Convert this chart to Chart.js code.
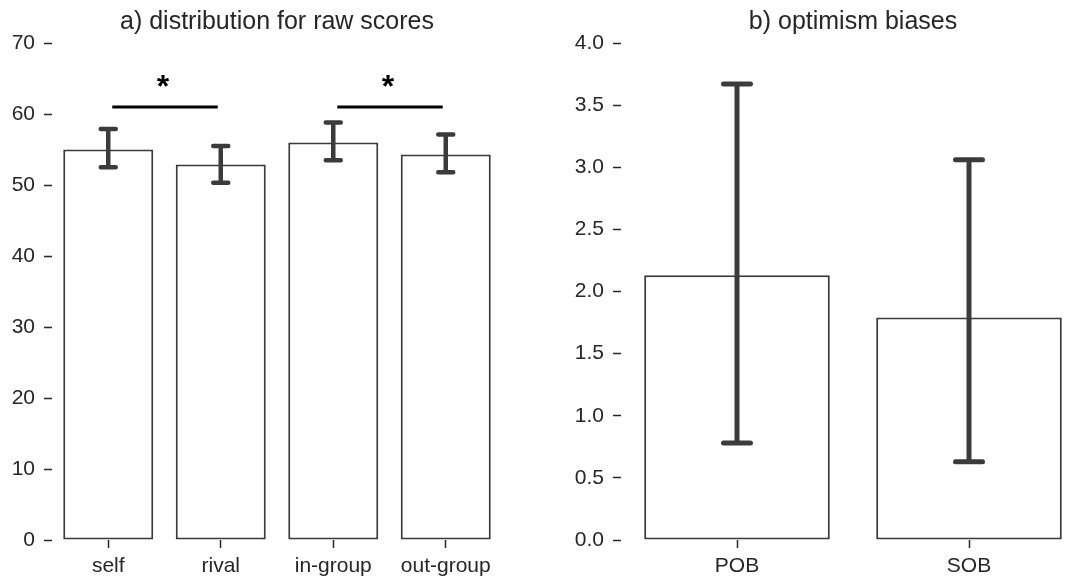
<!DOCTYPE html>
<html>
<head>
<meta charset="utf-8">
<script src="https://cdn.jsdelivr.net/npm/chart.js@4"></script>
<style>
html,body{margin:0;padding:0;background:#fff;overflow:hidden;width:1070px;height:581px;}
.box{position:absolute;top:0;height:581px;}
</style>
</head>
<body>
<div class="box" style="left:0;width:515px;"><canvas id="c1"></canvas></div>
<div class="box" style="left:560px;width:535px;"><canvas id="c2"></canvas></div>
<script>
// ---- data ----
const titleA = 'a) distribution for raw scores';
const catsA = ['self', 'rival', 'in-group', 'out-group'];
const meanA = [55.0, 52.9, 56.0, 54.3];
const loA = [52.5, 50.3, 53.5, 51.8];
const hiA = [57.9, 55.5, 58.8, 57.1];
const yTicksA = ['0', '10', '20', '30', '40', '50', '60', '70'];
const sigPairsA = [[0, 1], [2, 3]];
const sigLineY = 61;
const sigStarY = 63.6;

const titleB = 'b) optimism biases';
const catsB = ['POB', 'SOB'];
const meanB = [2.13, 1.79];
const loB = [0.78, 0.63];
const hiB = [3.67, 3.06];
const yTicksB = ['0.0', '0.5', '1.0', '1.5', '2.0', '2.5', '3.0', '3.5', '4.0'];

// ---- style ----
const FONT = "'Liberation Sans', Arial, sans-serif";
const TXT = '#262626';
const EDGE = '#3a3a3a';

function errPlugin(lo, hi, capHalf, lw) {
  return {
    id: 'err',
    afterDatasetsDraw(chart) {
      const ctx = chart.ctx, xs = chart.scales.x, ys = chart.scales.y;
      ctx.save();
      ctx.strokeStyle = '#3b3b3b';
      ctx.lineWidth = lw;
      ctx.lineCap = 'round';
      for (let i = 0; i < lo.length; i++) {
        const x = xs.getPixelForValue(i);
        const y1 = ys.getPixelForValue(hi[i]);
        const y2 = ys.getPixelForValue(lo[i]);
        ctx.beginPath();
        ctx.moveTo(x, y1); ctx.lineTo(x, y2);
        ctx.moveTo(x - capHalf, y1); ctx.lineTo(x + capHalf, y1);
        ctx.moveTo(x - capHalf, y2); ctx.lineTo(x + capHalf, y2);
        ctx.stroke();
      }
      ctx.restore();
    }
  };
}

const sigPlugin = {
  id: 'sig',
  afterDatasetsDraw(chart) {
    const ctx = chart.ctx, xs = chart.scales.x, ys = chart.scales.y;
    ctx.save();
    ctx.strokeStyle = '#000';
    ctx.fillStyle = '#000';
    ctx.lineWidth = 3;
    const yl = ys.getPixelForValue(sigLineY);
    const yst = ys.getPixelForValue(sigStarY);
    sigPairsA.forEach(([a, b]) => {
      const xa = xs.getPixelForValue(a) + 4, xb = xs.getPixelForValue(b) - 3;
      ctx.beginPath(); ctx.moveTo(xa, yl); ctx.lineTo(xb, yl); ctx.stroke();
      ctx.font = 'bold 32px ' + FONT;
      ctx.textAlign = 'center';
      ctx.textBaseline = 'middle';
      ctx.fillText('*', (xa + xb) / 2 - 2, yst);
    });
    ctx.restore();
  }
};

function makeOpts(title, yMax, step, yTicks, yWidth, padRight) {
  return {
    responsive: true,
    maintainAspectRatio: false,
    animation: false,
    devicePixelRatio: 1,
    layout: { padding: { left: 0, right: padRight, top: 0, bottom: 0 } },
    plugins: {
      legend: { display: false },
      tooltip: { enabled: false },
      title: {
        display: true, text: title, color: TXT, fullSize: false,
        font: { family: FONT, size: 25, weight: 'normal', lineHeight: 1.2 },
        padding: { top: 7, bottom: 6 }
      }
    },
    scales: {
      x: {
        offset: true,
        grid: { display: true, offset: false, drawOnChartArea: false, drawTicks: true, tickLength: 8, tickColor: TXT, tickWidth: 1.5 },
        border: { display: false },
        ticks: { color: TXT, font: { family: FONT, size: 21 }, padding: 6, maxRotation: 0 },
        afterFit(s) { s.height = 41; }
      },
      y: {
        min: 0, max: yMax,
        grid: { display: true, drawOnChartArea: false, drawTicks: true, tickLength: 8, tickColor: TXT, tickWidth: 1.5 },
        border: { display: false },
        ticks: {
          stepSize: step, color: TXT, font: { family: FONT, size: 21 }, padding: 9,
          callback: (v, i) => yTicks[i]
        },
        afterFit(s) { s.width = yWidth; }
      }
    }
  };
}

const barDs = (data) => ({
  data: data,
  backgroundColor: '#ffffff',
  borderColor: EDGE,
  borderWidth: 2,
  borderSkipped: false,
  categoryPercentage: 1.0,
  barPercentage: 0.8
});

new Chart(document.getElementById('c1'), {
  type: 'bar',
  data: { labels: catsA, datasets: [barDs(meanA)] },
  options: makeOpts(titleA, 70, 10, yTicksA, 52, 13),
  plugins: [errPlugin(loA, hiA, 7.5, 4.5), sigPlugin]
});

new Chart(document.getElementById('c2'), {
  type: 'bar',
  data: { labels: catsB, datasets: [barDs(meanB)] },
  options: makeOpts(titleB, 4, 0.5, yTicksB, 61, 10),
  plugins: [errPlugin(loB, hiB, 13.5, 5)]
});
</script>
</body>
</html>
